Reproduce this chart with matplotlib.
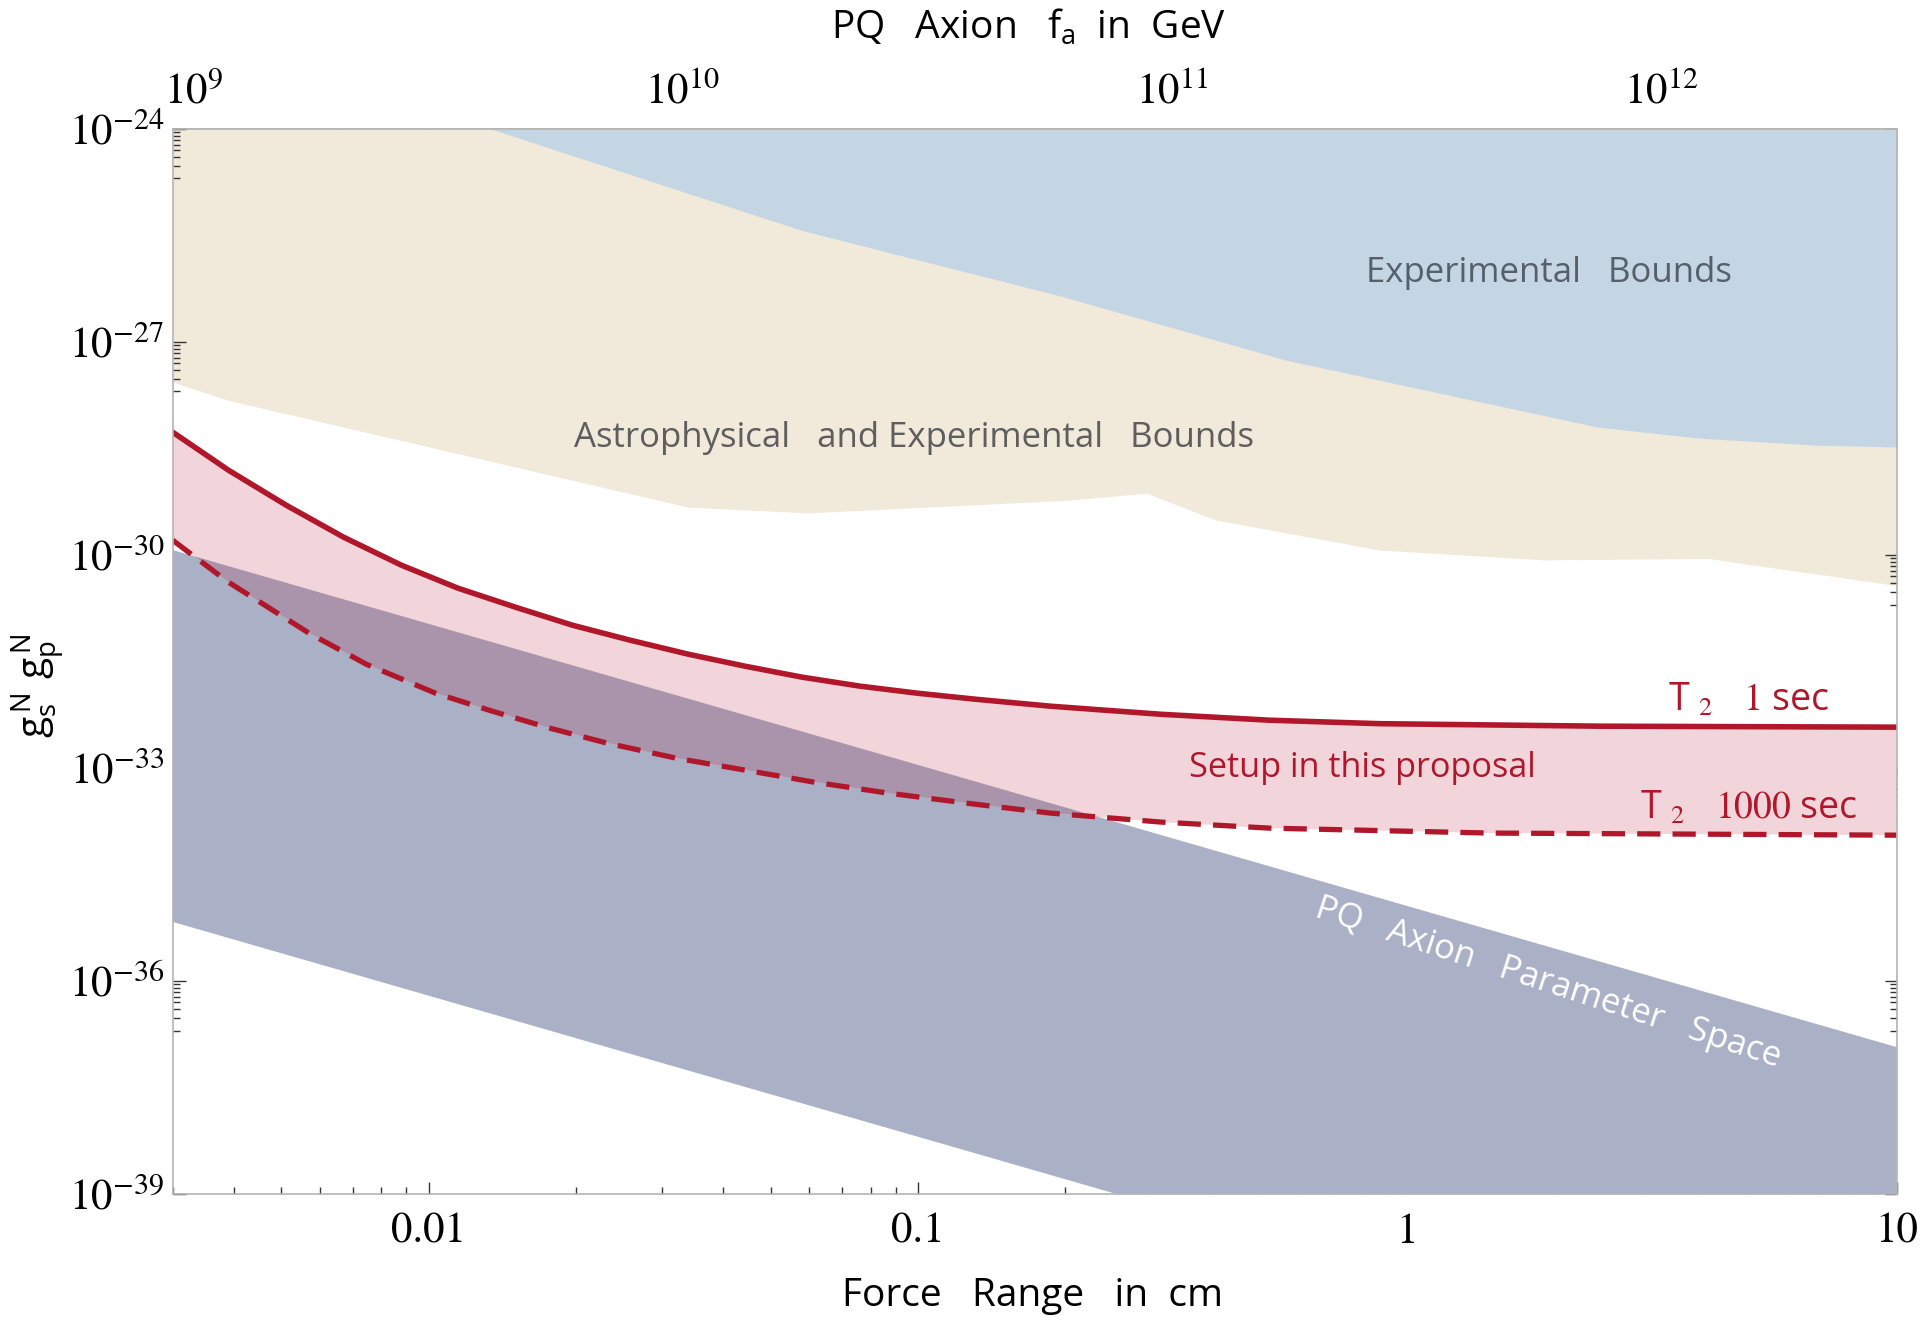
import matplotlib.pyplot as plt
from matplotlib.ticker import FixedLocator, NullFormatter, LogLocator
import numpy as np

plt.rcParams['font.family'] = ['Open Sans', 'DejaVu Sans']
plt.rcParams['mathtext.fontset'] = 'stix'
plt.rcParams['mathtext.rm'] = 'Open Sans'
plt.rcParams['mathtext.it'] = 'Open Sans'

# force range (cm) <-> PQ axion decay constant f_a (GeV)
CM_AT_FA_1E9 = 3.31e-3

# experimental bounds: lower edge (region goes up to the top of the plot)
exp_x = [0.01337, 0.0579, 0.196, 0.566, 2.45, 3.96, 6.90, 10.0]
exp_lo = [1e-24, 3.7e-26, 4.4e-27, 5.5e-28, 6.3e-29, 4.4e-29, 3.5e-29,
          3.3e-29]

# astrophysical + experimental bounds: lower edge
astro_x = [0.003, 0.0039, 0.0339, 0.0596, 0.205, 0.293, 0.406, 0.877,
           1.905, 4.11, 10.0]
astro_lo = [2.7e-28, 1.5e-28, 4.7e-30, 3.9e-30, 5.9e-30, 7.4e-30, 3.1e-30,
            1.17e-30, 8.5e-31, 8.9e-31, 3.7e-31]

# sensitivity, T2 = 1 sec
t1_x = [0.003, 0.0039, 0.00512, 0.0067, 0.0088, 0.01148, 0.01503, 0.0197,
        0.0258, 0.0339, 0.0443, 0.0579, 0.0760, 0.0995, 0.1306, 0.1866,
        0.313, 0.522, 0.877, 2.48, 10.0]
t1_y = [5.35e-29, 1.56e-29, 5.0e-30, 1.78e-30, 7.16e-31, 3.40e-31, 1.84e-31,
        1.02e-31, 6.3e-32, 4.0e-32, 2.71e-32, 1.90e-32, 1.42e-32, 1.13e-32,
        9.3e-33, 7.4e-33, 5.7e-33, 4.7e-33, 4.2e-33, 3.87e-33, 3.75e-33]

# sensitivity, T2 = 1000 sec
t1000_x = [0.003, 0.0039, 0.0057, 0.00746, 0.01033, 0.01349, 0.0177, 0.0232,
           0.0321, 0.0444, 0.0614, 0.0869, 0.1306, 0.1866, 0.313, 0.522,
           1.47, 10.0]
t1000_y = [1.61e-30, 4.13e-31, 7.9e-32, 2.89e-32, 1.13e-32, 6.3e-33,
           3.63e-33, 2.23e-33, 1.37e-33, 9.3e-34, 6.3e-34, 4.42e-34,
           3.09e-34, 2.31e-34, 1.73e-34, 1.42e-34, 1.21e-34, 1.13e-34]

# PQ axion band
pq_x = [0.003, 10.0]
pq_hi = [1.17e-30, 1.17e-37]
pq_lo = [6.8e-36, 6.8e-43]

y_major = [1e-39, 1e-36, 1e-33, 1e-30, 1e-27, 1e-24]
y_labels = ['$10^{-39}$', '$10^{-36}$', '$10^{-33}$', '$10^{-30}$',
            '$10^{-27}$', '$10^{-24}$']
x_major = [0.01, 0.1, 1, 10]
x_labels = ['0.01', '0.1', '1', '10']
fa_major = [1e9, 1e10, 1e11, 1e12]
fa_labels = ['$10^{9}$', '$10^{10}$', '$10^{11}$', '$10^{12}$']

BEIGE = '#f1eadb'
BLUE = '#c4d6e4'
PQ = '#aab0c6'
PINK = '#f2d5da'
OVERLAP = '#a994ab'
RED = '#b0172b'
FRAME = '#b4b4b4'
TICK = '#333333'

fig = plt.figure(figsize=(19.2, 13.22), dpi=100)
ax = fig.add_axes([0.0899, 0.0968, 0.898, 0.8058])
ax.set_xscale('log')
ax.set_yscale('log')
ax.set_xlim(0.003, 10)
ax.set_ylim(1e-39, 1e-24)

ax.fill_between(astro_x, astro_lo, 1e-24, color=BEIGE, lw=0, zorder=1)
ax.fill_between(exp_x, exp_lo, 1e-24, color=BLUE, lw=0, zorder=2)
pq_patch = ax.fill(pq_x + pq_x[::-1], pq_hi + pq_lo[::-1],
                   color=PQ, lw=0, zorder=3)[0]

band_x = t1_x + t1000_x[::-1]
band_y = t1_y + t1000_y[::-1]
ax.fill(band_x, band_y, color=PINK, lw=0, zorder=4)
overlap = ax.fill(band_x, band_y, color=OVERLAP, lw=0, zorder=5)[0]
overlap.set_clip_path(pq_patch)

ax.plot(t1_x, t1_y, color=RED, lw=4.0, zorder=6, solid_joinstyle='round')
ax.plot(t1000_x, t1000_y, color=RED, lw=3.8, zorder=6,
        dashes=(4.4, 2.3), dash_joinstyle='round')

# labels inside the plot
ax.text(0.798, 0.865, 'Experimental   Bounds', transform=ax.transAxes,
        ha='center', va='center', fontsize=25, color='#55606b', zorder=7)
ax.text(0.430, 0.710, 'Astrophysical   and Experimental   Bounds',
        transform=ax.transAxes, ha='center', va='center', fontsize=25,
        color='#5e5e5e', zorder=7)
ax.text(0.690, 0.400, 'Setup in this proposal', transform=ax.transAxes,
        ha='center', va='center', fontsize=24.7, color=RED, zorder=7)
ax.text(0.914, 0.463, r'T $_{2}$   $1$ sec', transform=ax.transAxes,
        ha='center', va='center', fontsize=27, color=RED, zorder=7)
ax.text(0.914, 0.362, r'T $_{2}$   $1000$ sec', transform=ax.transAxes,
        ha='center', va='center', fontsize=27, color=RED, zorder=7)
ax.text(0.798, 0.198, 'PQ   Axion   Parameter   Space', transform=ax.transAxes,
        ha='center', va='center', fontsize=25, color='white', rotation=-18,
        rotation_mode='anchor', zorder=7)

# axes styling
for sp in ax.spines.values():
    sp.set_color(FRAME)
    sp.set_linewidth(1.2)
    sp.set_zorder(8)

ax.yaxis.set_major_locator(FixedLocator(y_major))
ax.set_yticklabels(y_labels)
y_minor = [k * e / 10 for e in y_major[1:] for k in range(2, 10)]
ax.yaxis.set_minor_locator(FixedLocator(y_minor))
ax.yaxis.set_minor_formatter(NullFormatter())

ax.xaxis.set_major_locator(FixedLocator(x_major))
ax.set_xticklabels(x_labels)
ax.xaxis.set_minor_locator(LogLocator(base=10, subs=np.arange(2, 10)))
ax.xaxis.set_minor_formatter(NullFormatter())

ax.tick_params(axis='both', which='both', direction='in', color=TICK,
               width=1.0, top=False, right=True)
ax.tick_params(axis='both', which='major', length=9)
ax.tick_params(axis='both', which='minor', length=5)
ax.tick_params(axis='y', which='major', labelsize=31, pad=6)
ax.tick_params(axis='x', which='major', labelsize=31, pad=14)
for lab in ax.get_yticklabels() + ax.get_xticklabels():
    lab.set_family('STIXGeneral')

top = ax.secondary_xaxis('top', functions=(lambda x: x / CM_AT_FA_1E9 * 1e9,
                                            lambda f: f * CM_AT_FA_1E9 / 1e9))
top.xaxis.set_major_locator(FixedLocator(fa_major))
top.set_xticklabels(fa_labels)
top.xaxis.set_minor_locator(LogLocator(base=10, subs=np.arange(2, 10)))
top.xaxis.set_minor_formatter(NullFormatter())
top.tick_params(axis='x', which='both', direction='in', color=TICK, width=1.0)
top.tick_params(axis='x', which='major', length=9, labelsize=31, pad=10)
top.tick_params(axis='x', which='minor', length=5)
top.spines['top'].set_color(FRAME)
top.spines['top'].set_linewidth(1.2)

fig.text(0.5355, 0.979, r'PQ   Axion   f$_\mathrm{a}$  in  GeV', ha='center',
         va='center', fontsize=28, math_fontfamily='custom')
fig.text(0.5375, 0.020, 'Force   Range   in  cm', ha='center', va='center',
         fontsize=28)
fig.text(0.0198, 0.481, r'$\mathrm{g_s^{\,N}\ g_p^{\,N}}$', ha='center',
         va='center', rotation=90, fontsize=28, math_fontfamily='custom')

fig.savefig('out.png', dpi=100, facecolor='white')
